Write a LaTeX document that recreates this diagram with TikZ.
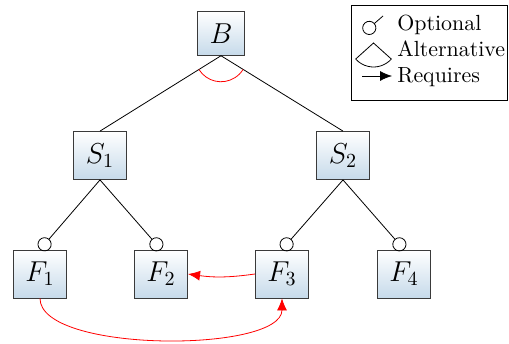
\documentclass[tikz,border=0pt]{standalone}
\usepackage{tikz}
\usetikzlibrary{arrows.meta, positioning, calc}
\definecolor{featblue}{HTML}{C6DAEA}
\definecolor{featline}{HTML}{3A3A3A}

\begin{document}
\begin{tikzpicture}[
    x=0.5pt, y=0.5pt,
    feat/.style={draw=featline, top color=white, bottom color=featblue, inner sep=6pt, font=\Large},
    opt/.style={-{Circle[open, length=7pt]}},
    req/.style={-{Latex[length=6pt, width=5pt]}, red},
    legtext/.style={anchor=base west, inner sep=0pt, font=\fontsize{10.95pt}{13.6pt}\selectfont},
]
    \useasboundingbox (0, 0) rectangle (509, 343);

    % Feature tree
    \node[feat] (B) at (221, 309.5) {$B$};
    \node[feat] (S1) at (100, 187.5) {$S_1$};
    \node[feat] (S2) at (343, 187.5) {$S_2$};
    \node[feat] (F1) at (40, 69) {$F_1$};
    \node[feat] (F2) at (161, 69) {$F_2$};
    \node[feat] (F3) at (282, 69) {$F_3$};
    \node[feat] (F4) at (404, 69) {$F_4$};

    \draw (B.south) -- (S1.north);
    \draw (B.south) -- (S2.north);
    % Alternative group below B
    \draw[red] ($(B.south)+(212:26)$) arc[start angle=212, end angle=328, radius=26];

    % Optional children
    \draw[opt] (S1.south) -- (F1.north);
    \draw[opt] (S1.south) -- (F2.north);
    \draw[opt] (S2.south) -- (F3.north);
    \draw[opt] (S2.south) -- (F4.north);

    % Requires
    \draw[req] (F3.west) to[bend left=8] (F2.east);
    \draw[req] (F1.south) to[out=-90, in=-90, looseness=0.58] (F3.south);

    % Legend
    \node[draw, minimum width=78pt, minimum height=47.5pt] (legend) at (429, 290.5) {};
    \coordinate (o1) at (383, 327);
    \coordinate (o2) at (364, 310.5);
    \draw[opt] (o1) -- (o2);
    \node[legtext] (optional) at (397, 312.5) {Optional};
    \coordinate (apex) at (373.5, 300);
    \draw ($(apex)+(222:24)$) -- (apex) -- ($(apex)+(318:24)$) arc[start angle=318, end angle=222, radius=24];
    \node[legtext] (alternative) at (397, 286) {Alternative};
    \coordinate (r1) at (362, 267);
    \coordinate (r2) at (392, 267);
    \draw[req, black] (r1) -- (r2);
    \node[legtext] (requires) at (397, 260) {Requires};
\end{tikzpicture}
\end{document}
